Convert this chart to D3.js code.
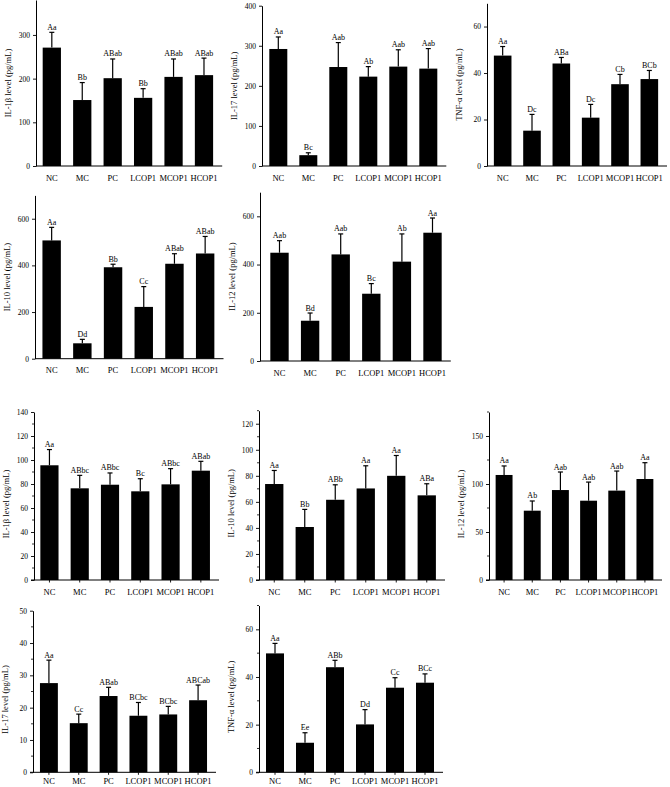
<!DOCTYPE html>
<html><head><meta charset="utf-8">
<script src="https://cdn.jsdelivr.net/npm/d3@7"></script>
<style>body{margin:0;background:#fff}svg{display:block}text{font-family:"Liberation Serif","Times New Roman",serif;fill:#000}</style>
</head><body>
<script>
const categories = ["NC","MC","PC","LCOP1","MCOP1","HCOP1"];

// Top group
const il1bTopMeans = [271,151,201,156,204,208];
const il1bTopErr   = [35,40,44,21,41,39];
const il1bTopLabels = ["Aa","Bb","ABab","Bb","ABab","ABab"];
const il1bTopTicks = [0,100,200,300];

const il17TopMeans = [292,27,247,223,248,243];
const il17TopErr   = [30,6,61,25,42,50];
const il17TopLabels = ["Aa","Bc","Aab","Ab","Aab","Aab"];
const il17TopTicks = [0,100,200,300,400];

const tnfTopMeans = [47.5,15.2,44.1,20.8,35.2,37.4];
const tnfTopErr   = [3.9,7.0,2.6,5.7,4.2,3.7];
const tnfTopLabels = ["Aa","Dc","ABa","Dc","Cb","BCb"];
const tnfTopTicks = [0,20,40,60];

const il10TopMeans = [507,66,392,222,407,451];
const il10TopErr   = [56,17,13,87,43,73];
const il10TopLabels = ["Aa","Dd","Bb","Cc","ABab","ABab"];
const il10TopTicks = [0,200,400,600];

const il12TopMeans = [449,167,442,279,412,532];
const il12TopErr   = [50,32,85,42,115,61];
const il12TopLabels = ["Aab","Bd","Aab","Bc","Ab","Aa"];
const il12TopTicks = [0,200,400,600];

// Bottom group
const il1bBotMeans = [95.6,76.4,79.4,73.9,79.7,91.1];
const il1bBotErr   = [13.1,10.8,9.8,10.5,13.1,7.8];
const il1bBotLabels = ["Aa","ABbc","ABbc","Bc","ABbc","ABab"];
const il1bBotTicks = [0,20,40,60,80,100,120,140];

const il10BotMeans = [73.7,40.7,61.6,70.3,80.0,65.0];
const il10BotErr   = [10.4,13.5,11.5,17.4,15.6,8.9];
const il10BotLabels = ["Aa","Bb","ABb","Aa","Aa","ABa"];
const il10BotTicks = [0,20,40,60,80,100,120];

const il12BotMeans = [109.4,72.2,93.7,82.6,93.1,105.2];
const il12BotErr   = [9.4,10.1,18.8,19.4,20.4,17.0];
const il12BotLabels = ["Aa","Ab","Aab","Aab","Aab","Aa"];
const il12BotTicks = [0,50,100,150];

const il17BotMeans = [27.6,15.2,23.6,17.5,17.9,22.3];
const il17BotErr   = [7.1,2.8,2.7,4.1,2.5,4.7];
const il17BotLabels = ["Aa","Cc","ABab","BCbc","BCbc","ABCab"];
const il17BotTicks = [0,10,20,30,40,50];

const tnfBotMeans = [49.9,12.4,44.1,20.1,35.5,37.6];
const tnfBotErr   = [4.2,4.2,2.9,6.2,4.2,3.7];
const tnfBotLabels = ["Aa","Ee","ABb","Dd","Cc","BCc"];
const tnfBotTicks = [0,20,40,60];

const panels = [
  {title:"IL-1β level (pg/mL)", means:il1bTopMeans, err:il1bTopErr, labels:il1bTopLabels, ticks:il1bTopTicks, max:380, minor:0},
  {title:"IL-17 level (pg/mL)", means:il17TopMeans, err:il17TopErr, labels:il17TopLabels, ticks:il17TopTicks, max:400, minor:0},
  {title:"TNF-α level (pg/mL)", means:tnfTopMeans, err:tnfTopErr, labels:tnfTopLabels, ticks:tnfTopTicks, max:70, minor:0},
  {title:"IL-10 level (pg/mL)", means:il10TopMeans, err:il10TopErr, labels:il10TopLabels, ticks:il10TopTicks, max:700, minor:0},
  {title:"IL-12 level (pg/mL)", means:il12TopMeans, err:il12TopErr, labels:il12TopLabels, ticks:il12TopTicks, max:700, minor:0},
  {title:"IL-1β level (pg/mL)", means:il1bBotMeans, err:il1bBotErr, labels:il1bBotLabels, ticks:il1bBotTicks, max:140, minor:10},
  {title:"IL-10 level (pg/mL)", means:il10BotMeans, err:il10BotErr, labels:il10BotLabels, ticks:il10BotTicks, max:130, minor:10},
  {title:"IL-12 level (pg/mL)", means:il12BotMeans, err:il12BotErr, labels:il12BotLabels, ticks:il12BotTicks, max:175, minor:25},
  {title:"IL-17 level (pg/mL)", means:il17BotMeans, err:il17BotErr, labels:il17BotLabels, ticks:il17BotTicks, max:50, minor:5},
  {title:"TNF-α level (pg/mL)", means:tnfBotMeans, err:tnfBotErr, labels:tnfBotLabels, ticks:tnfBotTicks, max:70, minor:10}
];

// layout (pixels)
const layout = [
  {ax:36,  bx0:36.6, bx1:219.2, y0:166,   yTop:0,     bottom:false, pad:8.5},
  {ax:262, bx0:263.3,bx1:443.3, y0:166,   yTop:5.7,   bottom:false, pad:8.5},
  {ax:487, bx0:488,  bx1:664,   y0:166,   yTop:3.3,   bottom:false, pad:8.5},
  {ax:35,  bx0:36.3, bx1:220.5, y0:358.7, yTop:195.4, bottom:false, pad:8.5},
  {ax:260, bx0:264.2,bx1:447.8, y0:361,   yTop:192.2, bottom:false, pad:8.5},
  {ax:34,  bx0:34.3, bx1:216,   y0:580,   yTop:412,   bottom:true,  pad:6},
  {ax:259, bx0:259,  bx1:442,   y0:580,   yTop:410.7, bottom:true,  pad:6},
  {ax:489, bx0:490,  bx1:659,   y0:580,   yTop:412,   bottom:true,  pad:6},
  {ax:33,  bx0:34,   bx1:213,   y0:772.3, yTop:610.7, bottom:true,  pad:3.5},
  {ax:259, bx0:260,  bx1:440,   y0:772.3, yTop:605.5, bottom:true,  pad:3.5}
];

const svg = d3.select("body").append("svg").attr("width",670).attr("height",787);
svg.append("rect").attr("width",670).attr("height",787).attr("fill","#fff");

panels.forEach((p,i)=>{
  const L = layout[i];
  const g = svg.append("g");
  const x = d3.scaleBand().domain(categories).range([L.bx0,L.bx1]).paddingInner(0.4).paddingOuter(0.2);
  const y = d3.scaleLinear().domain([0,p.max]).range([L.y0,L.yTop]);
  const data = categories.map((c,k)=>({c, m:p.means[k], e:p.err[k], lab:p.labels[k]}));

  g.selectAll("rect.bar").data(data).enter().append("rect")
    .attr("x",d=>x(d.c)).attr("width",x.bandwidth())
    .attr("y",d=>y(d.m)).attr("height",d=>L.y0-y(d.m)).attr("fill","#000");
  g.selectAll("line.eb").data(data).enter().append("line")
    .attr("x1",d=>x(d.c)+x.bandwidth()/2).attr("x2",d=>x(d.c)+x.bandwidth()/2)
    .attr("y1",d=>y(d.m)).attr("y2",d=>y(d.m+d.e)).attr("stroke","#000").attr("stroke-width",1.2);
  g.selectAll("line.cap").data(data).enter().append("line")
    .attr("x1",d=>x(d.c)+x.bandwidth()/2-2.5).attr("x2",d=>x(d.c)+x.bandwidth()/2+2.5)
    .attr("y1",d=>y(d.m+d.e)).attr("y2",d=>y(d.m+d.e)).attr("stroke","#000").attr("stroke-width",1.2);
  g.selectAll("text.sig").data(data).enter().append("text")
    .attr("x",d=>x(d.c)+x.bandwidth()/2).attr("y",d=>y(d.m+d.e)-2.5)
    .attr("text-anchor","middle").attr("font-size","8px").attr("fill","#000").text(d=>d.lab);

  if (p.minor){
    const minors = d3.range(0,p.max+0.001,p.minor).filter(v=>p.ticks.indexOf(v)<0);
    g.selectAll("line.minor").data(minors).enter().append("line")
      .attr("x1",L.ax-2).attr("x2",L.ax).attr("y1",d=>y(d)).attr("y2",d=>y(d))
      .attr("stroke","#000").attr("stroke-width",0.8);
  }
  const ya = g.append("g").attr("transform",`translate(${L.ax},0)`)
    .call(d3.axisLeft(y).tickValues(p.ticks).tickSize(3).tickSizeOuter(0).tickPadding(3).tickFormat(d3.format("d")));
  ya.select(".domain").attr("stroke","#000").attr("stroke-width",1);
  ya.selectAll(".tick line").attr("stroke","#000").attr("stroke-width",0.9);
  ya.selectAll("text").attr("font-size","7.5px").attr("font-family","Liberation Serif").attr("fill","#000");

  const xa = g.append("g").attr("transform",`translate(0,${L.y0})`)
    .call(d3.axisBottom(x).tickSize(L.bottom?2.5:0).tickSizeOuter(0).tickPadding(L.pad));
  xa.select(".domain").remove();
  xa.selectAll(".tick line").attr("stroke","#000").attr("stroke-width",0.9);
  xa.selectAll("text").attr("font-size","8.5px").attr("font-family","Liberation Serif").attr("fill","#000");
  g.append("line").attr("x1",L.bottom?L.ax-3:L.ax).attr("x2",L.bx1+3)
    .attr("y1",L.y0).attr("y2",L.y0).attr("stroke","#000").attr("stroke-width",1);

  const cy = (L.y0+L.yTop)/2 + (L.bottom?8:0);
  g.append("text").attr("transform",`translate(${L.ax-28},${cy}) rotate(-90)`)
    .attr("text-anchor","middle").attr("dy","0.35em").attr("font-size","8.5px").attr("fill","#000").text(p.title);
});
</script>
</body></html>
